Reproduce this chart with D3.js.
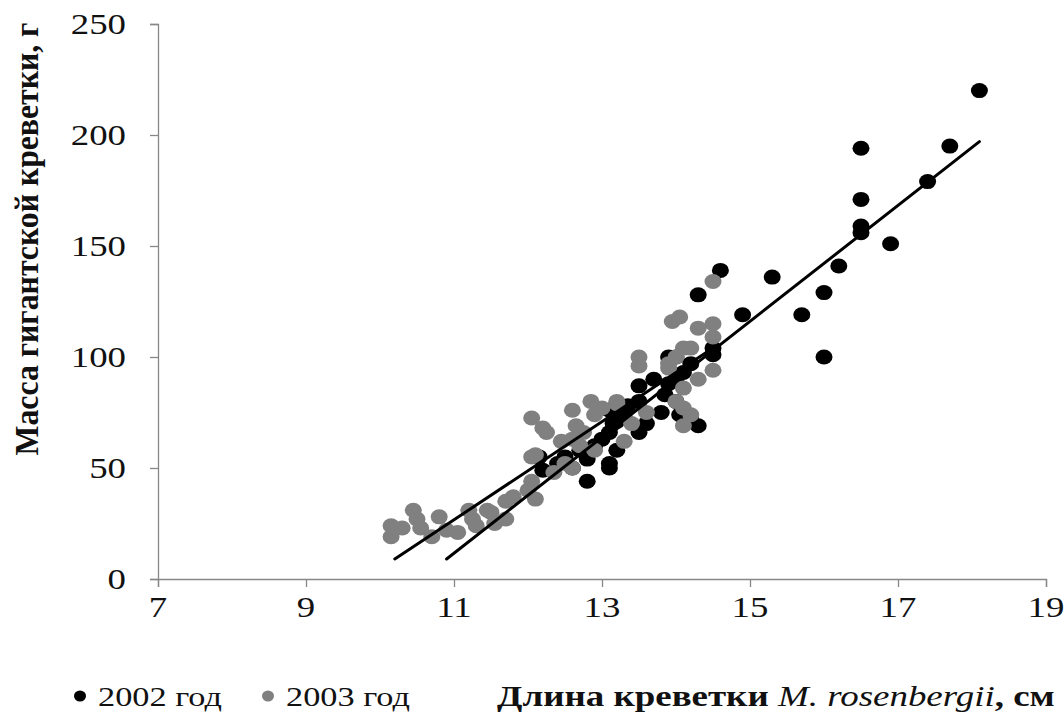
<!DOCTYPE html>
<html><head><meta charset="utf-8">
<script src="https://cdn.jsdelivr.net/npm/d3@7"></script>
<style>html,body{margin:0;padding:0;background:#fff;}svg{display:block;}
.serif{font-family:"Liberation Serif","Times New Roman",Tinos,Times,serif;}
</style>
</head><body>
<svg id="chart" width="1064" height="717"></svg>
<script>
// ---- data ----
const seriesNames = ["2002 год", "2003 год"];
const len2002 = [18.1,17.7,17.4,16.9,16.5,16.5,16.5,16.5,16.2,16.0,16.0,15.7,15.3,14.9,14.6,14.5,14.5,14.3,14.3,14.2,14.1,14.0,13.9,14.0,13.9,13.7,13.5,14.2,14.05,14.0,13.85,13.8,13.6,13.5,13.5,13.35,13.3,13.2,13.1,13.15,13.1,13.0,13.2,13.1,13.1,12.9,12.8,12.8,12.7,12.6,12.5,12.4,12.2,12.15];
const mass2002 = [220,195,179,151,194,171,159,156,141,129,100,119,136,119,139,104,101,128,69,97,93,100,100,90,88,90,87,72,74,80,83,75,70,80,66,78,73,71,76,70,66,63,58,52,50,60,54,44,58,50,55,52,49,55];
const len2003 = [10.15,10.15,10.3,10.45,10.55,10.5,10.7,10.8,10.9,11.05,11.2,11.25,11.45,11.5,11.55,11.7,11.7,11.3,
  11.8,12.0,12.05,12.1,12.05,12.1,12.05,12.2,12.25,12.35,12.45,12.5,12.6,12.6,12.65,12.7,12.85,12.9,12.6,12.75,13.0,13.2,13.2,13.4,13.6,12.9,13.3,
  13.5,13.5,13.95,14.05,14.5,14.3,14.5,14.5,14.1,14.2,14.0,13.9,14.3,14.5,14.1,14.0,14.1,14.2,14.1,13.9];
const mass2003 = [24,19,23,31,23,27,19,28,22,21,31,27,31,30,25,35,27,24,
  37,40,44,36,55,56,72.5,68,66,48,62,52,50,76,69,60,80,74,63,66,77,80,79,70,75,58,62,
  100,96,116,118,134,113,115,109,104,104,100,95,90,94,86,80,77,74,69,97];
const trendLen2002 = [10.9, 18.1], trendMass2002 = [9, 197];
const trendLen2003 = [10.2, 14.5], trendMass2003 = [9, 104];
const xTicks = [7, 9, 11, 13, 15, 17, 19];
const yTicks = [0, 50, 100, 150, 200, 250];
const xTitleMain = "Длина креветки ", xTitleItalic = "M. rosenbergii", xTitleEnd = ", см";
const yTitle = "Масса гигантской креветки, г";

// ---- drawing ----
const svg = d3.select("#chart");
const x = d3.scaleLinear().domain([7, 19]).range([158, 1046]);
const y = d3.scaleLinear().domain([0, 250]).range([579, 24]);
const axisColor = "#878787";
const SX = 1.27;

const xAxis = d3.axisBottom(x).tickValues(xTicks).tickSize(8).tickFormat("");
const yAxis = d3.axisLeft(y).tickValues(yTicks).tickSize(8).tickFormat("");
const gx = svg.append("g").attr("transform", `translate(0,${y(0)})`).call(xAxis);
const gy = svg.append("g").attr("transform", `translate(${x(7)},0)`).call(yAxis);
[gx, gy].forEach(g => {
  g.selectAll("path.domain").attr("stroke", axisColor).attr("stroke-width", 1.3);
  g.selectAll(".tick line").attr("stroke", axisColor).attr("stroke-width", 1.3);
});

svg.append("g").selectAll("g").data(xTicks).join("g")
  .attr("transform", d => `translate(${x(d)},${y(0) + 38}) scale(${SX},1)`)
  .append("text").attr("class", "serif").attr("text-anchor", "middle")
  .attr("font-size", 29).attr("fill", "#111").text(d => d);
svg.append("g").selectAll("g").data(yTicks).join("g")
  .attr("transform", d => `translate(${x(7) - 32},${y(d) + 10}) scale(${SX},1)`)
  .append("text").attr("class", "serif").attr("text-anchor", "end")
  .attr("font-size", 29).attr("fill", "#111").text(d => d);

const pts2002 = len2002.map((l, i) => [l, mass2002[i]]);
const pts2003 = len2003.map((l, i) => [l, mass2003[i]]);
svg.append("g").selectAll("ellipse").data(pts2002).join("ellipse")
  .attr("cx", d => x(d[0])).attr("cy", d => y(d[1])).attr("rx", 8.5).attr("ry", 7.5).attr("fill", "#000");
svg.append("g").selectAll("ellipse").data(pts2003).join("ellipse")
  .attr("cx", d => x(d[0])).attr("cy", d => y(d[1])).attr("rx", 8.5).attr("ry", 7.5).attr("fill", "#808080");

const line = d3.line().x(d => x(d[0])).y(d => y(d[1]));
svg.append("path").datum(trendLen2002.map((l, i) => [l, trendMass2002[i]]))
  .attr("d", line).attr("stroke", "#000").attr("stroke-width", 3).attr("fill", "none").attr("stroke-linecap", "round");
svg.append("path").datum(trendLen2003.map((l, i) => [l, trendMass2003[i]]))
  .attr("d", line).attr("stroke", "#000").attr("stroke-width", 3).attr("fill", "none").attr("stroke-linecap", "round");

// y title: fit length to the source span
const ytg = svg.append("g");
const yt = ytg.append("text").attr("class", "serif").attr("transform", "rotate(-90)").attr("text-anchor", "middle")
  .attr("font-weight", "bold").attr("font-size", 33).attr("fill", "#111").text(yTitle);
const yLen = yt.node().getComputedTextLength();
ytg.attr("transform", `translate(38,239) scale(1,${433 / yLen})`);

// x title: fit width to the source span
const xtg = svg.append("g");
const xt = xtg.append("text").attr("class", "serif").attr("font-size", 29).attr("fill", "#111");
xt.append("tspan").attr("font-weight", "bold").text(xTitleMain);
xt.append("tspan").attr("font-style", "italic").text(xTitleItalic);
xt.append("tspan").attr("font-weight", "bold").text(xTitleEnd);
const xLen = xt.node().getComputedTextLength();
xtg.attr("transform", `translate(497,706) scale(${558 / xLen},1)`);

const legendX = [80, 268];
const legendColors = ["#000", "#808080"];
const lg = svg.append("g").selectAll("g").data(seriesNames).join("g")
  .attr("transform", (d, i) => `translate(${legendX[i]},696)`);
lg.append("ellipse").attr("cx", 0).attr("cy", 0).attr("rx", 6).attr("ry", 5.5).attr("fill", (d, i) => legendColors[i]);
lg.append("g").attr("transform", `translate(18,10) scale(${SX},1)`)
  .append("text").attr("class", "serif").attr("font-size", 27).attr("fill", "#111").text(d => d);
</script>
</body></html>
